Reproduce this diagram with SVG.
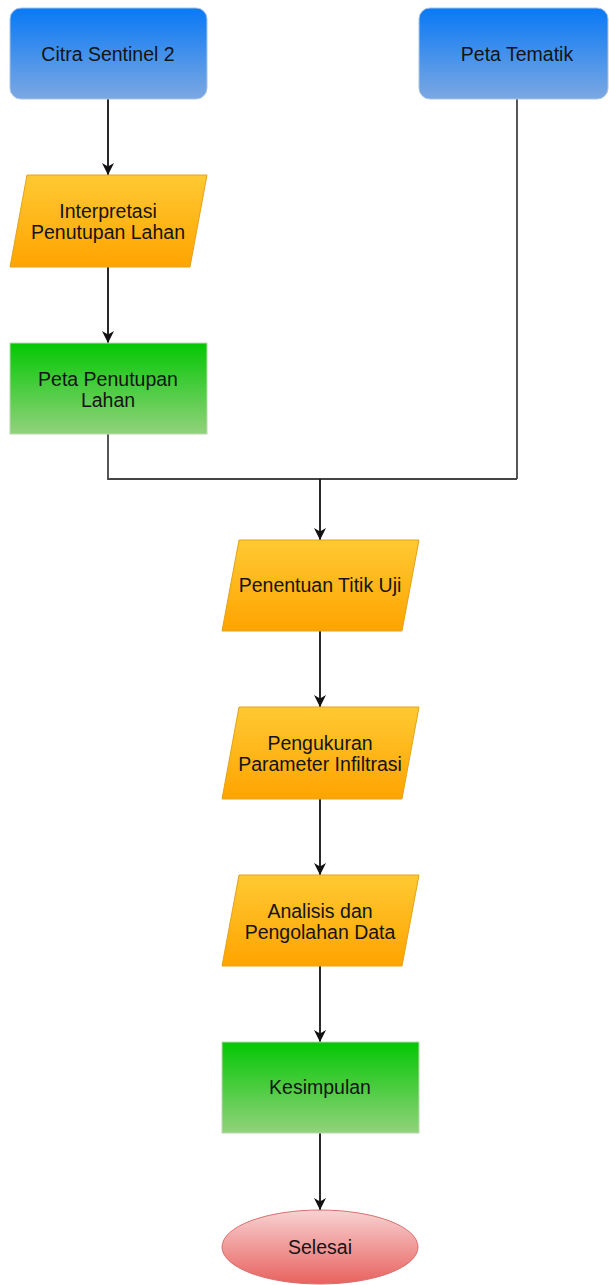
<svg xmlns="http://www.w3.org/2000/svg" width="609" height="1285" viewBox="0 0 609 1285">
<defs>
<linearGradient id="gBlue" x1="0" y1="0" x2="0" y2="1"><stop offset="0" stop-color="#0879f6"/><stop offset="1" stop-color="#7ca8e2"/></linearGradient>
<linearGradient id="gOrange" x1="0" y1="0" x2="0" y2="1"><stop offset="0" stop-color="#ffc933"/><stop offset="1" stop-color="#ffa400"/></linearGradient>
<linearGradient id="gGreen" x1="0" y1="0" x2="0" y2="1"><stop offset="0" stop-color="#04c704"/><stop offset="1" stop-color="#92d27c"/></linearGradient>
<linearGradient id="gRed" x1="0" y1="0" x2="0" y2="1"><stop offset="0" stop-color="#f8d2d2"/><stop offset="1" stop-color="#e8625f"/></linearGradient>
<marker id="arr" viewBox="0 0 12 12" refX="12" refY="6" markerWidth="12" markerHeight="12" markerUnits="userSpaceOnUse" orient="auto"><path d="M0,0 L12,6 L0,12 L3.5,6 Z" fill="#111"/></marker>
</defs>
<style>
text{font-family:"Liberation Sans",Arial,sans-serif;font-size:19.5px;fill:#141414;text-anchor:middle}
.blue{fill:url(#gBlue);stroke:#a9c4e6;stroke-width:1}
.orange{fill:url(#gOrange);stroke:#e4a21a;stroke-width:1}
.green{fill:url(#gGreen);stroke:#b9d9b0;stroke-width:1}
.red{fill:url(#gRed);stroke:#d8706e;stroke-width:1}
.edge{fill:none;stroke:#111;stroke-width:1.8}
.edgeg{fill:none;stroke:#444;stroke-width:1.8}
</style>
<g id="connectors">
<line class="edge" x1="108" y1="99" x2="108" y2="175" marker-end="url(#arr)"/>
<line class="edge" x1="108" y1="267" x2="108" y2="343" marker-end="url(#arr)"/>
<polyline class="edgeg" points="108,434 108,479 517,479"/>
<line class="edgeg" x1="517" y1="99" x2="517" y2="479"/>
<line class="edge" x1="320" y1="479" x2="320" y2="540" marker-end="url(#arr)"/>
<line class="edge" x1="320" y1="631" x2="320" y2="707" marker-end="url(#arr)"/>
<line class="edge" x1="320" y1="799" x2="320" y2="875" marker-end="url(#arr)"/>
<line class="edge" x1="320" y1="966" x2="320" y2="1042" marker-end="url(#arr)"/>
<line class="edge" x1="320" y1="1133" x2="320" y2="1210" marker-end="url(#arr)"/>
</g>
<g id="citra">
<rect class="blue" x="10" y="8" width="197" height="91" rx="11"/>
<text x="108" y="61">Citra Sentinel 2</text>
</g>
<g id="tematik">
<rect class="blue" x="419" y="8" width="189" height="91" rx="11"/>
<text x="517" y="61">Peta Tematik</text>
</g>
<g id="interpretasi">
<polygon class="orange" points="27,175 207,175 190,267 10,267"/>
<text x="108" y="218">Interpretasi</text>
<text x="108" y="239">Penutupan Lahan</text>
</g>
<g id="penutupan">
<rect class="green" x="10" y="343" width="197" height="91"/>
<text x="108" y="386">Peta Penutupan</text>
<text x="108" y="407">Lahan</text>
</g>
<g id="titik">
<polygon class="orange" points="239,540 419,540 402,631 222,631"/>
<text x="320" y="592">Penentuan Titik Uji</text>
</g>
<g id="pengukuran">
<polygon class="orange" points="239,707 419,707 402,799 222,799"/>
<text x="320" y="750">Pengukuran</text>
<text x="320" y="771">Parameter Infiltrasi</text>
</g>
<g id="analisis">
<polygon class="orange" points="239,875 419,875 402,966 222,966"/>
<text x="320" y="918">Analisis dan</text>
<text x="320" y="939">Pengolahan Data</text>
</g>
<g id="kesimpulan">
<rect class="green" x="222" y="1042" width="197" height="91"/>
<text x="320" y="1094">Kesimpulan</text>
</g>
<g id="selesai">
<ellipse class="red" cx="320" cy="1247" rx="98" ry="37"/>
<text x="320" y="1254">Selesai</text>
</g>
</svg>
